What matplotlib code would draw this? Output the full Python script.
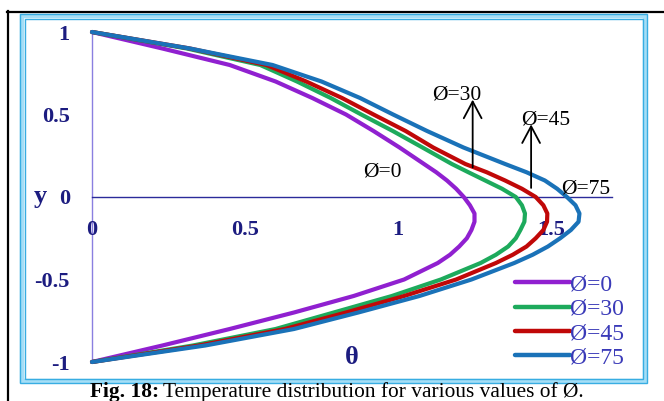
import numpy as np
import matplotlib.pyplot as plt
from matplotlib.patches import Rectangle
from matplotlib.lines import Line2D

# y positions across the channel and theta read at each one, per phi
y = [1, 0.9, 0.8, 0.7, 0.6, 0.5, 0.4, 0.3, 0.2, 0.15, 0.1, 0.05, 0, -0.05, -0.1,
     -0.15, -0.2, -0.25, -0.3, -0.35, -0.4, -0.5, -0.6, -0.7, -0.8, -0.9, -1]
theta_0 = [0, 0.23, 0.45, 0.60, 0.72, 0.83, 0.92, 1.005, 1.085, 1.125, 1.16, 1.19,
           1.215, 1.235, 1.25, 1.25, 1.24, 1.225, 1.20, 1.17, 1.13, 1.02, 0.855,
           0.66, 0.45, 0.23, 0]
theta_30 = [0, 0.31, 0.55, 0.67, 0.78, 0.88, 0.983, 1.08, 1.176, 1.23, 1.285, 1.34,
            1.385, 1.405, 1.415, 1.413, 1.40, 1.385, 1.36, 1.32, 1.27, 1.14, 0.98,
            0.79, 0.60, 0.33, 0]
theta_45 = [0, 0.32, 0.57, 0.70, 0.817, 0.92, 1.025, 1.115, 1.22, 1.29, 1.35, 1.405,
            1.45, 1.475, 1.488, 1.487, 1.475, 1.45, 1.42, 1.375, 1.32, 1.19, 1.02,
            0.83, 0.63, 0.35, 0]
theta_75 = [0, 0.32, 0.59, 0.75, 0.876, 0.984, 1.095, 1.214, 1.35, 1.42, 1.48, 1.52,
            1.552, 1.58, 1.593, 1.59, 1.565, 1.53, 1.49, 1.44, 1.38, 1.24, 1.07,
            0.87, 0.66, 0.37, 0]

labels = ['Ø=0', 'Ø=30', 'Ø=45', 'Ø=75']
colors = ['#9020d0', '#1daa5c', '#c00808', '#1a72b8']

xticks = [0, 0.5, 1, 1.5]
yticks = [-1, -0.5, 0, 0.5, 1]

navy = '#1c1c80'
serif = ['Liberation Serif', 'DejaVu Serif']

W, H = 664, 401
fig = plt.figure(figsize=(W / 100, H / 100), dpi=100)
fig.patch.set_facecolor('white')

# page border (black) and the cyan double frame around the chart
fig.add_artist(Line2D([7 / W, 1], [1 - 11.5 / H] * 2, color='k', lw=1.6,
                      transform=fig.transFigure))
fig.add_artist(Line2D([7.5 / W] * 2, [1 - 11 / H, 0], color='k', lw=1.6,
                      transform=fig.transFigure))
fig.add_artist(Rectangle((22 / W, 1 - 381 / H), 623 / W, 365 / H, fill=False,
                         ec='#a5def6', lw=3.2, transform=fig.transFigure))
for d in (0, 4.5):
    fig.add_artist(Rectangle(((20 + d) / W, 1 - (383 - d) / H), (627 - 2 * d) / W,
                             (369 - 2 * d) / H, fill=False, ec='#38ade2', lw=1.0,
                             transform=fig.transFigure))

ax = fig.add_axes([92 / W, 1 - 370.25 / H, 535.5 / W, 346.5 / H])
ax.set_xlim(0, 1.75)
ax.set_ylim(-1.05, 1.05)
ax.patch.set_alpha(0)

for th, c, lab in zip([theta_0, theta_30, theta_45, theta_75], colors, labels):
    ax.plot(th, y, color=c, lw=3.0, label=lab, clip_on=False,
            solid_joinstyle='round', solid_capstyle='round')

# axes cross at the origin
for s in ('top', 'right'):
    ax.spines[s].set_visible(False)
ax.spines['left'].set_position(('data', 0))
ax.spines['bottom'].set_position(('data', 0))
ax.spines['left'].set_bounds(-1, 1)
ax.spines['bottom'].set_bounds(0, 1.7)
ax.spines['left'].set_color('#8a7fe0')
ax.spines['bottom'].set_color('#2b2b9a')
ax.spines['left'].set_linewidth(1.0)
ax.spines['bottom'].set_linewidth(1.0)
ax.spines['left'].set_zorder(1)
ax.spines['bottom'].set_zorder(1)

ax.set_xticks(xticks)
ax.set_xticklabels(['0', '0.5', '1', '1.5'])
ax.set_yticks(yticks)
ax.set_yticklabels(['-1', '-0.5', '0', '0.5', '1'])
ax.tick_params(length=0, labelcolor=navy)
ax.tick_params(axis='y', pad=16)
ax.tick_params(axis='x', pad=16.5)
for t in ax.get_xticklabels() + ax.get_yticklabels():
    t.set_fontfamily(serif)
    t.set_fontweight('bold')
    t.set_fontsize(16)

ax.text(-0.17, 0, 'y', ha='center', va='center', fontsize=19, fontweight='bold',
        color=navy, family=serif, clip_on=False)
ax.text(0.85, -0.97, 'θ', ha='center', va='center', fontsize=19, fontweight='bold',
        color=navy, family=serif)

# curve annotations
note = dict(ha='center', va='center', fontsize=15.5, color='k', family=serif)
ax.text(0.948, 0.152, 'Ø=0', **note)
ax.text(1.193, 0.618, 'Ø=30', **note)
ax.text(1.484, 0.467, 'Ø=45', **note)
ax.text(1.614, 0.05, 'Ø=75', **note)
arrow = dict(arrowstyle='->,head_length=0.6,head_width=0.32', color='k', lw=1.3,
             mutation_scale=20, shrinkA=0, shrinkB=0)
ax.annotate('', xy=(1.244, 0.59), xytext=(1.244, 0.18), arrowprops=arrow)
ax.annotate('', xy=(1.435, 0.44), xytext=(1.435, 0.055), arrowprops=arrow)

leg = ax.legend(loc='upper left', bbox_to_anchor=(515 / W, 1 - 274 / H),
                bbox_transform=fig.transFigure, frameon=False, borderpad=0,
                borderaxespad=0, handlelength=2.33, handletextpad=0.0,
                labelspacing=0.12, prop={'family': serif, 'size': 17})
for t in leg.get_texts():
    t.set_color('#3a3ab8')
for h in leg.get_lines():
    h.set_linewidth(3.2)

# caption: bold figure number followed by regular text
cap_y = 1 - 397 / H
bold = fig.text(90 / W, cap_y, 'Fig. 18:', fontsize=15.4, fontweight='bold',
                family=serif, va='baseline')
fig.canvas.draw()
bb = bold.get_window_extent(fig.canvas.get_renderer())
fig.text(bb.x1 / W + 4 / W, cap_y, 'Temperature distribution for various values of Ø.',
         fontsize=15.4, family=serif, va='baseline')

fig.savefig('out.png', dpi=100)
